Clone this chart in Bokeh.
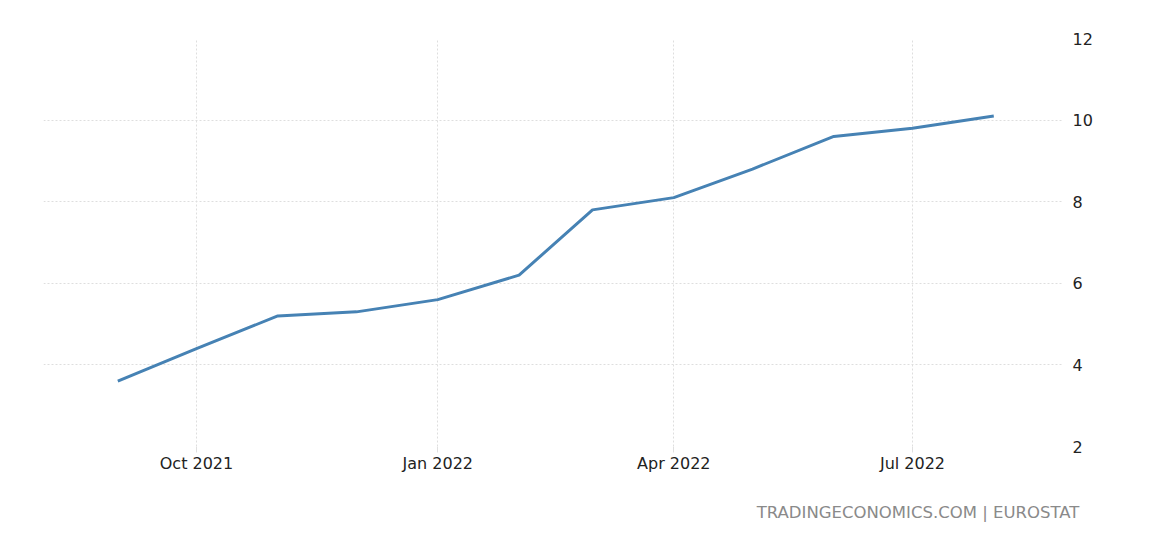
import pandas as pd
from bokeh.plotting import figure
from bokeh.models import (FixedTicker, DatetimeTickFormatter, Range1d, LinearAxis,
                          ColumnDataSource)
from bokeh.embed import file_html
from bokeh.resources import INLINE

# ---- data ----
months = ["2021-09-01", "2021-10-01", "2021-11-01", "2021-12-01",
          "2022-01-01", "2022-02-01", "2022-03-01", "2022-04-01",
          "2022-05-01", "2022-06-01", "2022-07-01", "2022-08-01"]
values = [3.6, 4.4, 5.2, 5.3, 5.6, 6.2, 7.8, 8.1, 8.8, 9.6, 9.8, 10.1]
x_ticks = ["2021-10-01", "2022-01-01", "2022-04-01", "2022-07-01"]
y_ticks = [2, 4, 6, 8, 10, 12]
source_text = "TRADINGECONOMICS.COM | EUROSTAT"

FONT = "DejaVu Sans"

src = ColumnDataSource(dict(x=pd.to_datetime(months), y=values))

x_start = pd.Timestamp("2021-08-03 16:00")
x_end = pd.Timestamp("2022-08-27 14:00")

p = figure(width=1159, height=527, x_axis_type="datetime",
           y_axis_location="right", output_backend="svg",
           toolbar_location=None,
           x_range=Range1d(x_start, x_end), y_range=Range1d(2, 12),
           min_border_left=43, min_border_right=96,
           min_border_top=38, min_border_bottom=81)
p.outline_line_color = None
p.background_fill_color = "white"
p.border_fill_color = "white"

p.line("x", "y", source=src, line_color="#4682b4", line_width=3)

tick_ms = [pd.Timestamp(t).value / 1e6 for t in x_ticks]
xa = p.xaxis[0]
xa.ticker = FixedTicker(ticks=tick_ms)
xa.formatter = DatetimeTickFormatter(days="%b %Y", months="%b %Y", years="%b %Y",
                                     context=None)
xa.axis_line_color = None
xa.major_tick_line_color = "#e0e0e0"
xa.major_tick_out = 6
xa.major_tick_in = 0
xa.minor_tick_line_color = None
xa.major_label_standoff = 1
xa.major_label_text_font = FONT
xa.major_label_text_font_size = "16px"
xa.major_label_text_color = "#222222"

ya = p.yaxis[0]
ya.ticker = FixedTicker(ticks=y_ticks)
ya.axis_line_color = None
ya.major_tick_line_color = None
ya.minor_tick_line_color = None
ya.major_tick_out = 0
ya.major_tick_in = 0
ya.major_label_standoff = 9
ya.major_label_text_font = FONT
ya.major_label_text_font_size = "16px"
ya.major_label_text_color = "#222222"

for g in (p.xgrid[0], p.ygrid[0]):
    g.grid_line_color = "#dedede"
    g.grid_line_dash = "2 2"
    g.grid_line_width = 1

# source note, drawn as the single label of a second (invisible) bottom axis
p.extra_x_ranges = {"note": Range1d(-874.5, 145.5)}
note_axis = LinearAxis(x_range_name="note", ticker=FixedTicker(ticks=[0]),
                       major_label_overrides={0: source_text},
                       axis_line_color=None, major_tick_line_color=None,
                       minor_tick_line_color=None, major_tick_out=0,
                       major_tick_in=0, major_label_standoff=27,
                       major_label_text_font=FONT,
                       major_label_text_font_size="16.5px",
                       major_label_text_color="#8a8a8a")
p.add_layout(note_axis, "below")

open("out.html", "w").write(file_html(p, INLINE))
